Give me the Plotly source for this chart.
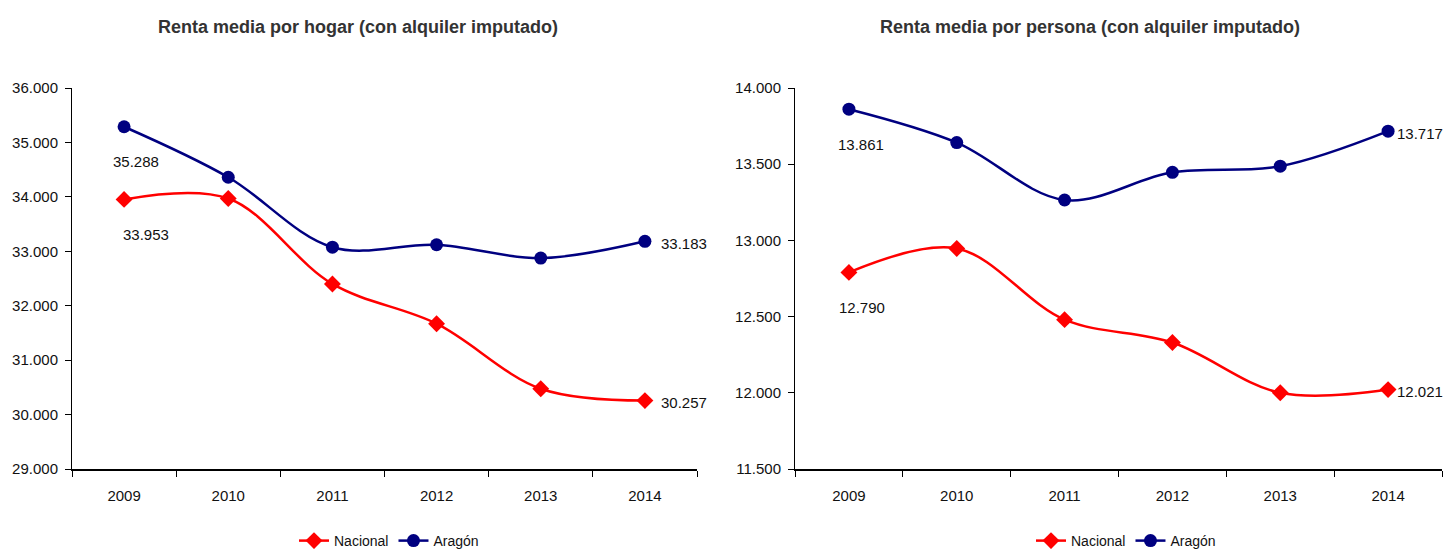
import plotly.graph_objects as go

years = ["2009", "2010", "2011", "2012", "2013", "2014"]

hogar_nacional = [33953, 33970, 32400, 31670, 30475, 30257]
hogar_aragon = [35288, 34360, 33075, 33120, 32875, 33183]

persona_nacional = [12790, 12947, 12480, 12330, 12000, 12021]
persona_aragon = [13861, 13642, 13265, 13447, 13487, 13717]

titles = ["Renta media por hogar (con alquiler imputado)",
          "Renta media por persona (con alquiler imputado)"]

RED = "#ff0000"
NAVY = "#000080"
FONT = "Liberation Sans, Arial, sans-serif"
PAGE_OFF = 8          # default body margin of the html page
W, H = 1453 - PAGE_OFF, 549 - PAGE_OFF


def px(x):
    return (x - PAGE_OFF) / W


def py(y):
    return 1 - (y - PAGE_OFF) / H


def fmt(v):
    return f"{v:,}".replace(",", ".")


fig = go.Figure()

panels = [
    dict(nac=hogar_nacional, ara=hogar_aragon, xa="x", ya="y", leg="legend",
         xdom=[px(72), px(697)], yr=[29000, 36000], dt=1000, tx=358, lx=389, ls=14),
    dict(nac=persona_nacional, ara=persona_aragon, xa="x2", ya="y2", leg="legend2",
         xdom=[px(795), px(1442)], yr=[11500, 14000], dt=500, tx=1090, lx=1126, ls=7),
]

ydom = [py(469), py(88)]

annotations = []
last = len(years) - 1
for i, p in enumerate(panels):
    fig.add_trace(go.Scatter(
        x=years, y=p["nac"], name="Nacional", mode="lines+markers",
        line=dict(color=RED, width=2.5, shape="spline", smoothing=1),
        marker=dict(symbol="diamond", size=13, color=RED),
        xaxis=p["xa"], yaxis=p["ya"], legend=p["leg"]))
    fig.add_trace(go.Scatter(
        x=years, y=p["ara"], name="Aragón", mode="lines+markers",
        line=dict(color=NAVY, width=2.5, shape="spline", smoothing=1),
        marker=dict(symbol="circle", size=13, color=NAVY),
        xaxis=p["xa"], yaxis=p["ya"], legend=p["leg"]))
    # data labels (first & last)
    for series, dx0 in ((p["ara"], 12), (p["nac"], 22 if i == 0 else 13)):
        annotations.append(dict(
            x=0, y=series[0], xref=p["xa"], yref=p["ya"],
            text=fmt(series[0]), showarrow=False, xshift=dx0, yshift=-35,
            font=dict(family=FONT, size=15, color="#111")))
        annotations.append(dict(
            x=last, y=series[-1], xref=p["xa"], yref=p["ya"],
            text=fmt(series[-1]), showarrow=False, xanchor="left",
            xshift=p["ls"], yshift=-2,
            font=dict(family=FONT, size=15, color="#111")))
    # title
    annotations.append(dict(
        x=px(p["tx"]), y=py(27), xref="paper", yref="paper",
        text=f"<b>{titles[i]}</b>", showarrow=False, xanchor="center", yanchor="middle",
        font=dict(family=FONT, size=18, color="#333333")))

axis_common = dict(showgrid=False, zeroline=False, showline=True, linecolor="#000",
                   ticks="outside", tickcolor="#000", automargin=False,
                   tickfont=dict(family=FONT, size=15, color="#111"))

leg_common = dict(orientation="h", xanchor="center", y=py(541), yanchor="middle",
                  font=dict(family=FONT, size=14, color="#111"),
                  itemwidth=30, tracegroupgap=0, bgcolor="rgba(0,0,0,0)")

layout = dict(
    width=W, height=H,
    margin=dict(l=0, r=0, t=0, b=0, autoexpand=False),
    paper_bgcolor="white", plot_bgcolor="white",
    separators=",.",
    annotations=annotations,
    showlegend=True,
    legend=dict(leg_common, x=px(panels[0]["lx"])),
    legend2=dict(leg_common, x=px(panels[1]["lx"])),
)

for i, p in enumerate(panels):
    sfx = "" if i == 0 else "2"
    layout["xaxis" + sfx] = dict(axis_common, domain=p["xdom"], anchor="y" + sfx,
                                 type="category", tickson="boundaries", ticklen=6,
                                 linewidth=1.5 if i == 0 else 2, ticklabelstandoff=12,
                                 range=[-0.5, 5.5])
    layout["yaxis" + sfx] = dict(axis_common, domain=ydom, anchor="x" + sfx,
                                 range=p["yr"], dtick=p["dt"], tick0=p["yr"][0],
                                 tickformat=",d", ticklen=6, linewidth=1,
                                 ticklabelstandoff=4)

fig.update_layout(**layout)
fig.write_html(
    "out.html", default_width=f"{W}px", default_height=f"{H}px",
    post_script="document.documentElement.style.overflow='hidden';"
                "document.body.style.overflow='hidden';")
